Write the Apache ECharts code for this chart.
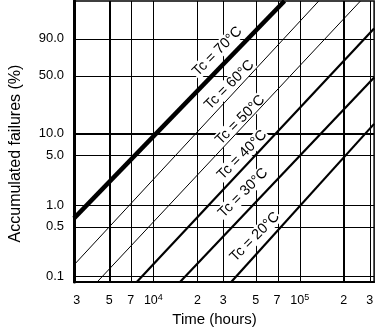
<!DOCTYPE html>
<html>
<head>
<meta charset="utf-8">
<script src="https://cdn.jsdelivr.net/npm/echarts@6/dist/echarts.min.js"></script>
<style>
  html, body { margin: 0; padding: 0; background: #fff; }
  #chart { width: 376px; height: 333px; }
</style>
</head>
<body>
<div id="chart"></div>
<script>
// axis extents: hours and cumulative %
const hourRange = [2870, 322000]
const pctRange = [0.083, 99.963]

const xTicks = [3000, 5000, 7000, 10000, 20000, 30000, 50000, 70000, 100000, 200000, 300000]
const xTickLabels = ['3', '5', '7', '10^4', '2', '3', '5', '7', '10^5', '2', '3']
const xBoldTicks = [5000, 200000]

const yTicks = [0.1, 0.5, 1.0, 5.0, 10.0, 50.0, 90.0]
const yTickLabels = ['0.1', '0.5', '1.0', '5.0', '10.0', '50.0', '90.0']
const yBoldTicks = [10.0]

const temps = ['Tc = 70°C', 'Tc = 60°C', 'Tc = 50°C', 'Tc = 40°C', 'Tc = 30°C', 'Tc = 20°C']

// each line where it enters and leaves the frame, [hours, %]
const line70 = [[2869, 0.660], [78660, 99.963]]
const line60 = [[2869, 0.1446], [134800, 99.963]]
const line50 = [[4129, 0.083], [259800, 99.963]]
const line40 = [[7700, 0.083], [322000, 96.05]]
const line30 = [[15200, 0.083], [322000, 48.0]]
const line20 = [[34000, 0.083], [322000, 13.4]]

// centre of each "Tc = ..." label, [hours, %]
const labelAt = [[27400, 78.2], [33100, 40.0], [39200, 15.1], [40400, 5.1], [41050, 1.5], [49360, 0.36]]

const lines = [line70, line60, line50, line40, line30, line20]
const widths = [4.5, 1, 1, 2.2, 2.2, 2.2]

// log10 on time, Weibull ln(-ln(1-F)) on the failure axis
const lx = (h) => Math.log10(h)
const wy = (p) => Math.log(-Math.log(1 - p / 100))
const FONT = "'Liberation Sans', Arial, Helvetica, sans-serif"

function pick(ticks, labels, f, v) {
  const i = ticks.findIndex((t) => Math.abs(f(t) - v) < 1e-6)
  return i < 0 ? '' : labels[i]
}

const gridLines = [
  ...xTicks.slice(1).map((h) => ({
    xAxis: lx(h),
    lineStyle: { width: xBoldTicks.includes(h) ? 2 : 1 }
  })),
  ...yTicks.map((p) => ({
    yAxis: wy(p),
    lineStyle: { width: yBoldTicks.includes(p) ? 2 : 1 }
  }))
]

const chart = echarts.init(document.getElementById('chart'))

chart.setOption({
  animation: false,
  grid: {
    left: 68, right: 1, top: 1, bottom: 51,
    show: true, borderColor: '#000', borderWidth: 1.5
  },
  xAxis: {
    type: 'value',
    min: lx(hourRange[0]),
    max: lx(hourRange[1]),
    axisLine: { show: true, onZero: false, lineStyle: { color: '#000', width: 2 } },
    axisTick: { show: false },
    splitLine: { show: false },
    axisLabel: {
      customValues: xTicks.map(lx),
      margin: 11,
      color: '#000',
      fontFamily: FONT,
      formatter: (v) => {
        const [b, e] = pick(xTicks, xTickLabels, lx, v).split('^')
        return e ? `{b|${b}}{sup|${e}}` : `{b|${b}}`
      },
      rich: {
        b: { fontSize: 12.5, lineHeight: 16, fontFamily: FONT, color: '#000' },
        sup: { fontSize: 9, lineHeight: 9, verticalAlign: 'top', fontFamily: FONT, color: '#000' }
      }
    },
    name: 'Time (hours)',
    nameLocation: 'middle',
    nameGap: 29,
    nameTextStyle: { fontSize: 15, fontFamily: FONT, color: '#000', padding: [0, 19, 0, 0] }
  },
  yAxis: {
    type: 'value',
    min: wy(pctRange[0]),
    max: wy(pctRange[1]),
    axisLine: { show: true, onZero: false, lineStyle: { color: '#000', width: 3 } },
    axisTick: { show: false },
    splitLine: { show: false },
    axisLabel: {
      customValues: yTicks.map(wy),
      margin: 10,
      fontSize: 13,
      color: '#000',
      fontFamily: FONT,
      formatter: (v) => pick(yTicks, yTickLabels, wy, v)
    },
    name: 'Accumulated failures (%)',
    nameLocation: 'middle',
    nameGap: 50,
    nameTextStyle: { fontSize: 16, fontFamily: FONT, color: '#000', padding: [0, 24, 0, 0] }
  },
  series: lines.map((pts, i) => ({
    name: temps[i],
    type: 'line',
    data: pts.map(([h, p]) => [lx(h), wy(p)]),
    symbol: 'none',
    z: 3,
    lineStyle: { color: '#000', width: widths[i] },
    markLine: i === 0 ? {
      silent: true,
      symbol: 'none',
      z: 1,
      label: { show: false },
      lineStyle: { color: '#000', type: 'solid' },
      data: gridLines
    } : undefined,
    markPoint: {
      silent: true,
      symbol: 'rect',
      symbolSize: 1,
      z: 2,
      itemStyle: { color: 'rgba(0,0,0,0)' },
      label: {
        show: true,
        position: 'inside',
        formatter: temps[i],
        rotate: 45,
        fontSize: 14.5,
        fontFamily: FONT,
        color: '#000',
        backgroundColor: '#fff',
        padding: [0, 1]
      },
      data: [{ coord: [lx(labelAt[i][0]), wy(labelAt[i][1])] }]
    }
  }))
})
</script>
</body>
</html>
